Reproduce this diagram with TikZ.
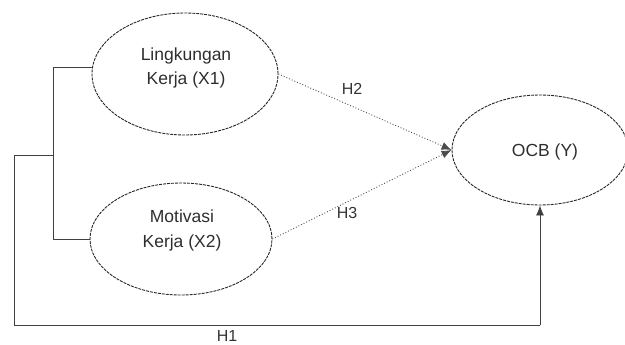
\documentclass[tikz,border=0pt]{standalone}
\usepackage{fontspec}
\setmainfont{Liberation Sans}
\usetikzlibrary{shapes.geometric,arrows.meta}
\begin{document}
\begin{tikzpicture}[x=1pt,y=-1pt,
  latent/.style={draw=black!85, ellipse, line width=0.9pt, dashed, dash pattern=on 3pt off 1pt, inner sep=0pt},
  vtext/.style={text=black!82, font=\fontsize{17.5}{24}\selectfont, align=center, inner sep=0pt},
  link/.style={draw=black!75, line width=0.8pt},
  hyp/.style={draw=black!70, line width=0.9pt, dotted, -{Latex[length=10pt,width=8pt]}},
  lbl/.style={text=black!80, font=\fontsize{16}{18}\selectfont, inner sep=1pt}]
\useasboundingbox (0,0) rectangle (625,345);
\node[latent, minimum width=186pt, minimum height=122pt] (x1) at (185,74) {};
\node[latent, minimum width=182pt, minimum height=112pt] (x2) at (181,239) {};
\node[latent, minimum width=176pt, minimum height=110pt] (y) at (540,150) {};
\node[vtext] (t1) at (186,68) {Lingkungan\\Kerja (X1)};
\node[vtext, font=\fontsize{17.5}{25}\selectfont] (t2) at (182,230) {Motivasi\\Kerja (X2)};
\node[vtext] (t3) at (545,152) {OCB (Y)};
\coordinate (b1) at (53,67);
\coordinate (b2) at (53,239);
\coordinate (bm) at (53,155);
\coordinate (o1) at (14,155);
\coordinate (o2) at (14,325);
\coordinate (o3) at (y.south |- o2);
\draw[link] (x1.west |- b1) -- (b1) -- (b2) -- (x2.west |- b2);
\draw[link] (bm) -- (o1) -- (o2) -- (o3);
\draw[link, -{Latex[length=10pt,width=8pt]}] (o3) -- (y.south);
\draw[hyp] (x1.east) -- (y.west);
\draw[hyp] (x2.east) -- (y.west);
\node[lbl] (h2) at (352,89) {H2};
\node[lbl] (h3) at (347,213) {H3};
\node[lbl] (h1) at (227,336) {H1};
\end{tikzpicture}
\end{document}
